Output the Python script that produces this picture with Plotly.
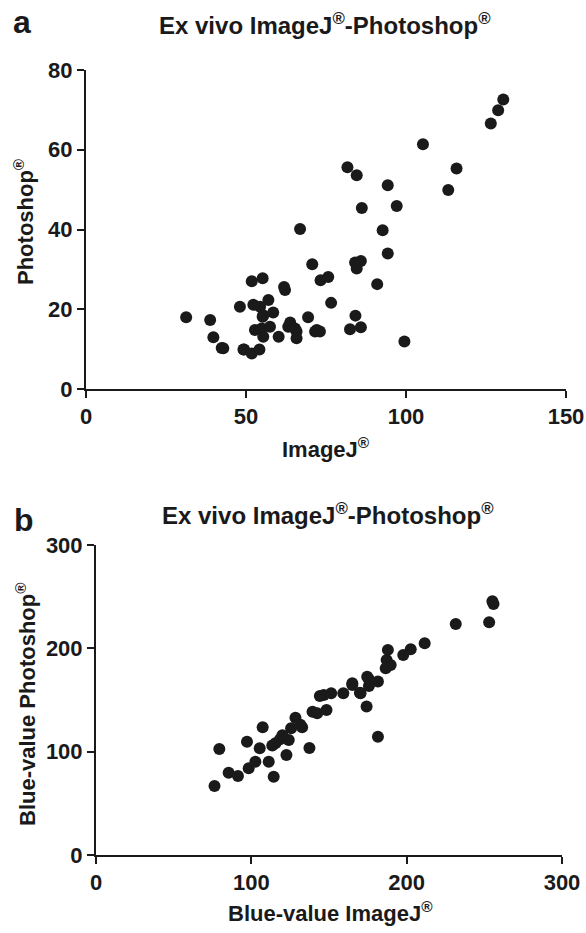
import plotly.graph_objects as go

# Panel a: Ex vivo ImageJ vs Photoshop
a_imagej = [31.3, 38.8, 39.8, 42.4, 42.9, 48.1, 49.4, 49.2, 51.8, 54.2, 51.8, 55.2,
            52.3, 54.4, 57.0, 55.2, 58.5, 55.4, 52.8, 54.9, 57.5, 55.4, 60.2, 62.2,
            61.9, 63.8, 63.2, 65.8, 65.3, 65.8, 66.9, 69.4, 70.7, 71.6, 72.1, 73.3,
            73.1, 75.7, 76.6, 130.4, 128.8, 126.5, 105.3, 115.8, 113.2, 81.7, 84.6,
            94.3, 97.1, 86.2, 92.7, 94.3, 85.9, 84.1, 84.6, 91.0, 84.2, 82.5, 85.9, 99.5]
a_photoshop = [18.0, 17.3, 13.0, 10.3, 10.2, 20.6, 9.9, 9.9, 8.9, 9.9, 27.0, 27.8,
               21.1, 20.6, 22.3, 18.1, 19.2, 18.5, 14.8, 15.2, 15.6, 13.1, 13.1, 24.8,
               25.6, 16.7, 15.6, 14.4, 15.2, 12.7, 40.1, 18.0, 31.3, 14.4, 14.8, 27.3,
               14.4, 28.1, 21.6, 72.6, 69.9, 66.6, 61.4, 55.3, 49.9, 55.6, 53.6,
               51.1, 45.9, 45.4, 39.8, 34.0, 32.1, 31.7, 30.2, 26.3, 18.4, 15.0, 15.5, 11.9]

# Panel b: Blue values
b_imagej = [76.3, 79.4, 85.4, 91.4, 97.2, 98.3, 102.6, 107.3, 105.4, 111.2, 114.4,
            115.5, 113.5, 122.6, 124.1, 125.6, 128.4, 132.7, 131.6, 137.4, 139.4,
            142.4, 144.1, 148.4, 146.6, 151.4, 159.2, 165.0, 165.0, 169.9, 170.3,
            174.6, 175.7, 175.7, 181.5, 174.2, 181.5, 187.9, 187.1, 189.7, 186.5,
            197.8, 202.6, 211.6, 231.6, 253.1, 255.9, 255.2, 118.5, 120.0]
b_photoshop = [66.8, 102.6, 79.7, 76.5, 109.7, 83.9, 90.3, 123.6, 103.3, 90.3, 75.8,
               108.1, 106.0, 96.8, 111.3, 122.6, 132.9, 123.6, 126.0, 103.6, 138.7,
               137.2, 153.9, 140.4, 154.9, 156.5, 156.5, 166.2, 164.6, 157.1, 156.5,
               172.6, 163.6, 170.0, 167.8, 143.6, 114.5, 198.5, 188.8, 183.9, 180.7,
               193.6, 199.1, 204.9, 223.6, 225.3, 243.0, 245.5, 112.0, 116.0]

a_xticks = [0, 50, 100, 150]
a_yticks = [0, 20, 40, 60, 80]
b_ticks = [0, 100, 200, 300]

W, H = 586, 933
FONT = "Arial, Liberation Sans, Helvetica, sans-serif"
INK = "#1a1a1a"

def px(x):
    return x / W

def py(y):
    return 1 - y / H

def bold(vals):
    return ["<b>%d</b>" % v for v in vals]

fig = go.Figure()
marker = dict(color=INK, size=12, line=dict(width=0))
fig.add_trace(go.Scatter(x=a_imagej, y=a_photoshop, mode="markers", marker=marker,
                         xaxis="x", yaxis="y", showlegend=False))
fig.add_trace(go.Scatter(x=b_imagej, y=b_photoshop, mode="markers", marker=marker,
                         xaxis="x2", yaxis="y2", showlegend=False))

axis_common = dict(showline=True, linecolor=INK, linewidth=2, ticks="outside",
                   ticklen=7, tickwidth=2, tickcolor=INK, showgrid=False,
                   zeroline=False, mirror=False, automargin=False,
                   tickfont=dict(family=FONT, size=22, color=INK))

fig.update_layout(
    template="none",
    width=W, height=H, margin=dict(l=0, r=0, t=0, b=0, autoexpand=False),
    paper_bgcolor="white", plot_bgcolor="white",
    xaxis=dict(domain=[px(86), px(566)], range=[0, 150], tickvals=a_xticks,
               ticktext=bold(a_xticks), anchor="y", **axis_common),
    yaxis=dict(domain=[py(389), py(70)], range=[0, 80], tickvals=a_yticks,
               ticktext=bold(a_yticks), anchor="x", **axis_common),
    xaxis2=dict(domain=[px(96), px(562)], range=[0, 300], tickvals=b_ticks,
                ticktext=bold(b_ticks), anchor="y2", **axis_common),
    yaxis2=dict(domain=[py(855), py(545)], range=[0, 300], tickvals=b_ticks,
                ticktext=bold(b_ticks), anchor="x2", **axis_common),
)

def ann(text, x, y, size, angle=0):
    fig.add_annotation(text="<b>" + text + "</b>", x=px(x), y=py(y),
                       xref="paper", yref="paper",
                       showarrow=False, xanchor="center", yanchor="middle",
                       textangle=angle,
                       font=dict(family=FONT, size=size, color=INK))

R = "<sup>®</sup>"
ann("a", 22, 22, 32)
ann("Ex vivo ImageJ" + R + "-Photoshop" + R, 325, 24, 24)
ann("ImageJ" + R, 326, 448, 22)
ann("Photoshop" + R, 24, 222, 22, angle=-90)

ann("b", 24, 520, 32)
ann("Ex vivo ImageJ" + R + "-Photoshop" + R, 328, 514, 24)
ann("Blue-value ImageJ" + R, 330, 912, 22)
ann("Blue-value Photoshop" + R, 26, 704, 22, angle=-90)

fig.write_html(
    "out.html",
    config={"displayModeBar": False},
    post_script="document.body.style.margin='0';"
                "document.body.style.overflow='hidden';",
)
